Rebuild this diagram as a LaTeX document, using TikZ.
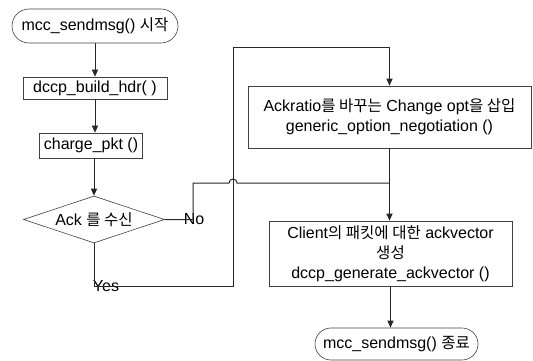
\documentclass[tikz,border=0pt]{standalone}
\usepackage{fontspec}
\setmainfont{Liberation Sans}
\newfontfamily\kr{Noto Sans CJK KR}[Scale=0.97]
\usetikzlibrary{shapes.geometric,shapes.misc,arrows.meta}
\newcommand\fsz{\fontsize{16}{20}\selectfont}
\begin{document}
\begin{tikzpicture}[x=1pt,y=-1pt,
  box/.style={draw=black!75, line width=0.6pt, rectangle, inner sep=0pt, align=center, font=\fsz},
  term/.style={draw=black!75, line width=0.6pt, rounded rectangle, inner sep=0pt, font=\fsz},
  dec/.style={draw=black!75, line width=0.6pt, diamond, shape aspect=3, inner sep=0pt, font=\fsz},
  conn/.style={line width=1pt, black!85},
  arr/.style={conn, -{Triangle[length=7pt,width=6pt]}},
  lbl/.style={font=\fsz, inner sep=0pt}]
\useasboundingbox (0,0) rectangle (533,361);
\node[term, minimum width=166pt, minimum height=34pt] (start) at (95,26) {mcc\_sendmsg() {\kr 시작}};
\node[box, minimum width=144pt, minimum height=22pt] (build) at (95,88) {dccp\_build\_hdr( )};
\node[box, minimum width=103pt, minimum height=25pt] (charge) at (91,145.5) {charge\_pkt ()};
\node[dec, minimum width=141pt, minimum height=47pt] (ack) at (94,219.5) {Ack {\kr 를 수신}};
\node[box, minimum width=283pt, minimum height=62pt] (opt) at (389.5,117) {Ackratio{\kr 를 바꾸는} Change opt{\kr 을 삽입}\\generic\_option\_negotiation ()};
\node[box, minimum width=243pt, minimum height=65pt] (cli) at (390.5,253.5) {Client{\kr 의 패킷에 대한} ackvector\\{\kr 생성}\\dccp\_generate\_ackvector ()};
\node[term, minimum width=163pt, minimum height=32pt] (end) at (396.5,344) {mcc\_sendmsg() {\kr 종료}};
\node[lbl] (no) at (194,219.5) {No};
\node[lbl] (yes) at (106,286) {Yes};
\coordinate (ybend) at (233,286);
\coordinate (ytop) at (233,48);
\coordinate (nbend) at (193,183);
\coordinate (hopL) at (229,183);
\draw[arr] (start.south) -- (build.north);
\draw[arr] (build.south) -- (build.south |- charge.north);
\draw[arr] (ack.north |- charge.south) -- (ack.north);
\draw[arr] (ack.south) |- (ybend) -- (ytop) -| (opt.north);
\draw[conn] (ack.east) -| (nbend) -- (hopL) arc[start angle=180, end angle=0, radius=4pt] -- (opt.south |- nbend);
\draw[arr] (opt.south) -- (opt.south |- cli.north);
\draw[arr] (cli.south) -- (cli.south |- end.north);
\end{tikzpicture}
\end{document}
